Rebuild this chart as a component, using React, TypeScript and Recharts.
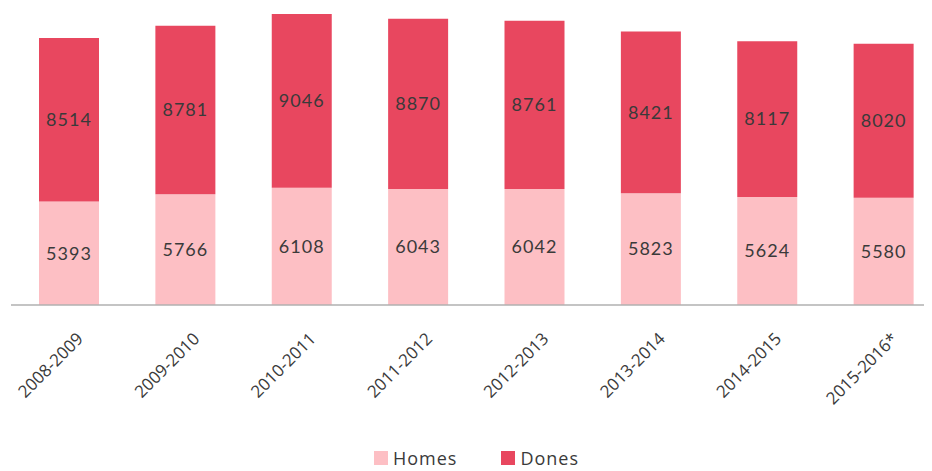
import React from "react";
import { BarChart, Bar, XAxis, YAxis, Legend, LabelList } from "recharts";

const seasons = [
  "2008-2009",
  "2009-2010",
  "2010-2011",
  "2011-2012",
  "2012-2013",
  "2013-2014",
  "2014-2015",
  "2015-2016*",
];
const homes = [5393, 5766, 6108, 6043, 6042, 5823, 5624, 5580];
const dones = [8514, 8781, 9046, 8870, 8761, 8421, 8117, 8020];

const data = seasons.map((name, i) => ({ name, homes: homes[i], dones: dones[i] }));

const HOMES_COLOR = "#fdbfc4";
const DONES_COLOR = "#e8475f";
const TEXT = "#3a3a3a";

// etiqueta rotada de l'eix X
const SeasonTick = (props: any) => {
  const { x, y, payload } = props;
  return (
    <g transform={`translate(${x + 15},${y + 27})`}>
      <text
        transform="rotate(-45)"
        textAnchor="end"
        fill={TEXT}
        fontSize={17}
        fontFamily="'Open Sans', sans-serif"
      >
        {payload.value}
      </text>
    </g>
  );
};

const legendOrder = ["Homes", "Dones"];

const LegendContent = (props: any) => {
  const items = [...(props.payload || [])].sort(
    (a: any, b: any) => legendOrder.indexOf(a.value) - legendOrder.indexOf(b.value)
  );
  return (
    <div
      style={{
        display: "flex",
        justifyContent: "center",
        gap: 44,
        paddingTop: 6,
        lineHeight: "18px",
        fontFamily: "'Open Sans', sans-serif",
        fontSize: 18,
        letterSpacing: 1,
        color: TEXT,
      }}
    >
      {items.map((it: any) => (
        <div key={it.value} style={{ display: "flex", alignItems: "center" }}>
          <span
            style={{
              width: 14,
              height: 14,
              background: it.color,
              display: "inline-block",
              marginRight: 5,
            }}
          />
          <span>{it.value}</span>
        </div>
      ))}
    </div>
  );
};

const labelStyle = {
  fill: TEXT,
  fontSize: 18,
  letterSpacing: 1,
  fontFamily: "Lato, sans-serif",
};

export default function App() {
  return (
    <div style={{ width: 934, height: 463, overflow: "visible" }}>
      <BarChart
        width={934}
        height={463}
        data={data}
        margin={{ top: 6, right: 0, bottom: 0, left: 3 }}
      >
        <XAxis
          dataKey="name"
          stroke="#b0b0b0"
          strokeWidth={1.5}
          tickLine={false}
          interval={0}
          height={138}
          tick={<SeasonTick />}
        />
        <YAxis hide domain={[0, "dataMax"]} />
        <Legend
          verticalAlign="bottom"
          content={<LegendContent />}
          wrapperStyle={{ height: 28 }}
        />
        <Bar dataKey="homes" name="Homes" stackId="a" fill={HOMES_COLOR} barSize={60} isAnimationActive={false}>
          <LabelList dataKey="homes" position="center" style={labelStyle} />
        </Bar>
        <Bar dataKey="dones" name="Dones" stackId="a" fill={DONES_COLOR} barSize={60} isAnimationActive={false}>
          <LabelList dataKey="dones" position="center" style={labelStyle} />
        </Bar>
      </BarChart>
    </div>
  );
}
